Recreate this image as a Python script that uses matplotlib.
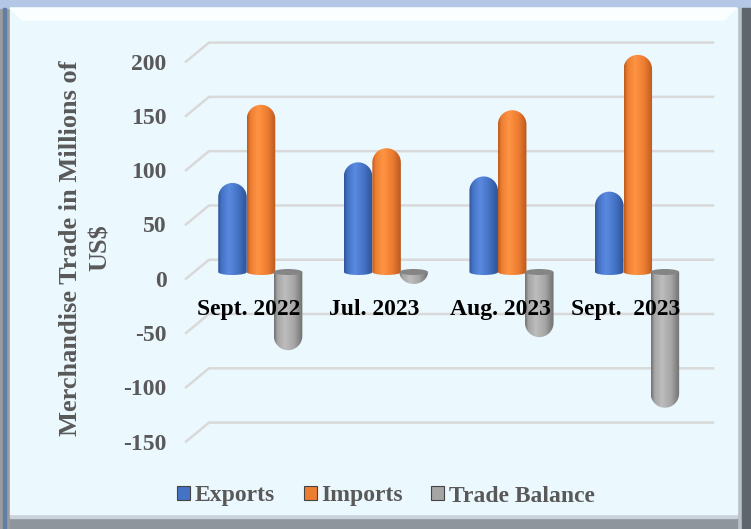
import numpy as np
import matplotlib.pyplot as plt
from matplotlib.patches import Rectangle, Ellipse, Polygon, Patch
from matplotlib.colors import LinearSegmentedColormap
from matplotlib.transforms import ScaledTranslation, blended_transform_factory

months = ["Sept. 2022", "Jul. 2023", "Aug. 2023", "Sept.  2023"]
exports = [82, 101, 88, 74]
imports = [154, 114, 149, 200]
balance = [-72, -11, -60, -125]
series_names = ["Exports", "Imports", "Trade Balance"]
yticks = [-150, -100, -50, 0, 50, 100, 150, 200]

W, H = 751, 529
fig = plt.figure(figsize=(W / 100, H / 100), dpi=100)
fig.patch.set_facecolor("#9C9C9C")

# frame around the chart area (pixel boxes converted to figure fractions)
def fbox(x0, y0, x1, y1, color):
    fig.patches.append(Rectangle((x0 / W, 1 - y1 / H), (x1 - x0) / W, (y1 - y0) / H,
                                 transform=fig.transFigure, color=color, zorder=-5))

fbox(0, 0, W, 8, "#B4C7E7")
fbox(3, 8, 6, H, "#5F7FA6")
fbox(737, 8, 742, H, "#B9C1C9")
fbox(742, 8, W, H, "#5E656C")
fbox(10, 518, 737, H, "#8E959C")
fbox(10, 514, 737, 518, "#C9D2DA")
fbox(10, 8, 737, 514, "#EBF8FE")
fig.patches.append(Polygon([(10 / W, 1 - 8 / H), (737 / W, 1 - 8 / H),
                            (724 / W, 1 - 20 / H), (22 / W, 1 - 20 / H)],
                           closed=True, transform=fig.transFigure,
                           color="#FBFEFF", zorder=-4))

# axes placed so that 0 sits at the bars' base line
left, right, top, bottom = 186, 713, 40, 440
ax = fig.add_axes([left / W, 1 - bottom / H, (right - left) / W, (bottom - top) / H])
ax.set_zorder(2)
ax.patch.set_alpha(0)
px_per_y = 1.0857
zero_px = 272
ymax = (zero_px - top) / px_per_y
ymin = -(bottom - zero_px) / px_per_y
px_per_x = 125.6
xmin = -(261 - left) / px_per_x
xmax = (right - 261) / px_per_x
ax.set_xlim(xmin, xmax)
ax.set_ylim(ymin, ymax)
ax.autoscale(False)
for s in ax.spines.values():
    s.set_visible(False)

# back-wall gridlines with the little perspective step on the left
back_dy = 11.3
front_dy = -6.2
wall_x = (209 - left) / (right - left)
gtrans = blended_transform_factory(ax.transAxes, ax.transData)
for v in yticks:
    ax.plot([0, wall_x, 1], [v + front_dy, v + back_dy, v + back_dy], color="#D9D9D9",
            lw=1.8, transform=gtrans, clip_on=False, zorder=1)

serif = ["Liberation Serif", "DejaVu Serif"]
grey_txt = "#595959"

ax.set_yticks(yticks)
ax.set_yticklabels([str(v) for v in yticks], fontfamily=serif, fontweight="bold",
                   fontsize=17, color=grey_txt)
ax.tick_params(axis="y", length=0, pad=14)
for lab in ax.get_yticklabels():
    lab.set_transform(lab.get_transform() + ScaledTranslation(0, -6.7 / 100, fig.dpi_scale_trans))

x = np.arange(len(months))
ax.spines["bottom"].set_position(("data", 0))
ax.set_xticks(x)
ax.set_xticklabels(months, fontfamily=serif, fontweight="bold", fontsize=17, color="black")
ax.tick_params(axis="x", length=0, pad=19.5)
ax.xaxis.set_zorder(10)
for lab in ax.get_xticklabels():
    lab.set_transform(lab.get_transform() + ScaledTranslation(-12 / 100, 0, fig.dpi_scale_trans))

ax.set_ylabel("Merchandise Trade in Millions of\nUS$", fontfamily=serif, fontweight="bold",
              fontsize=19, color=grey_txt, linespacing=1.38, va="center")
ax.yaxis.set_label_coords((85 - left) / (right - left), (bottom - 248) / (bottom - top))

# cylinder bars
def shade(dark, base, light):
    return LinearSegmentedColormap.from_list(
        "cyl", [(0, dark), (0.12, base), (0.38, light), (0.7, base), (1, dark)])

cmaps = [shade("#2E5296", "#4472C4", "#5A8AE0"),
         shade("#B85A1E", "#ED7D31", "#FF9444"),
         shade("#6E6E6E", "#A5A5A5", "#BDBDBD")]
base_colors = ["#4472C4", "#ED7D31", "#A5A5A5"]

w = 0.227
offsets = [-w, 0, w * 0.95]
grad = np.linspace(0, 1, 256).reshape(1, -1)
ry = (w / 2) * px_per_x / px_per_y
foot = 3 / px_per_y
t = np.linspace(np.pi, 0, 40)

for k, vals in enumerate([exports, imports, balance]):
    for i, v in enumerate(vals):
        xc = x[i] + offsets[k]
        sgn = 1 if v >= 0 else -1
        r = min(ry, abs(v))
        body_end = v - sgn * r
        # outline: side up, rounded end, side back, curved foot
        cap = np.column_stack([xc + w / 2 * np.cos(t), body_end + sgn * r * np.sin(t)])
        if sgn > 0:
            base = np.column_stack([xc - w / 2 * np.cos(t), -foot * np.sin(t)])
        else:
            base = np.array([[xc + w / 2, 0], [xc - w / 2, 0]])
        outline = Polygon(np.vstack([cap, base]), closed=True, facecolor="none", edgecolor="none")
        ax.add_patch(outline)
        lo, hi = min(0, v) - foot, max(0, v) + foot
        im = ax.imshow(grad, extent=[xc - w / 2, xc + w / 2, lo, hi], aspect="auto",
                       cmap=cmaps[k], origin="lower", zorder=3 + k * 0.1, interpolation="bilinear")
        im.set_clip_path(outline)
        if sgn < 0:
            ax.add_patch(Ellipse((xc, 0), w, 2 * foot, facecolor="#858585", lw=0,
                                 zorder=3.5 + k * 0.1))

ax.set_xlim(xmin, xmax)
ax.set_ylim(ymin, ymax)

handles = [Patch(facecolor=c, edgecolor="#444444", lw=0.8) for c in base_colors]
leg = fig.legend(handles, series_names, loc="center", bbox_to_anchor=(386 / W, 1 - 496 / H),
                 ncol=3, frameon=False, handlelength=0.55, handleheight=0.55, handletextpad=0.2,
                 columnspacing=1.2, prop={"family": serif, "weight": "bold", "size": 17})
for txt in leg.get_texts():
    txt.set_color(grey_txt)

fig.savefig("out.png", dpi=100, facecolor=fig.get_facecolor())
